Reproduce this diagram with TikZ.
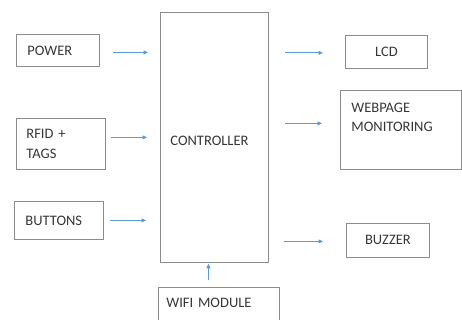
\documentclass[tikz,border=0pt]{standalone}
\usepackage{fontspec}
\setmainfont{Carlito}
\usetikzlibrary{arrows.meta}
\definecolor{boxgray}{HTML}{8C8C8C}
\definecolor{txtgray}{HTML}{363636}
\definecolor{arrblue}{HTML}{5B9BD5}
\tikzset{
  block/.style={draw=boxgray, line width=0.8pt, anchor=north west, align=left,
    inner ysep=0pt, text=txtgray, font=\fontsize{14.5}{19.5}\selectfont},
  flow/.style={draw=arrblue, line width=0.8pt, -{Triangle[length=4.5pt,width=4pt]}},
}
\begin{document}
\begin{tikzpicture}[x=1pt,y=-1pt]
\useasboundingbox (0,0) rectangle (462,320);
% inputs
\node[block, inner xsep=11pt, text width=61pt, minimum height=32pt] (power) at (16,34) {POWER};
\node[block, inner xsep=10pt, text width=69pt, minimum height=51pt] (rfid) at (16,118) {RFID +\\TAGS};
\node[block, inner xsep=11pt, text width=67pt, minimum height=38pt] (buttons) at (14,201) {BUTTONS};
% controller and wifi
\node[block, inner xsep=10pt, text width=88pt, text height=133.6pt, text depth=116.4pt] (ctrl) at (160,12) {CONTROLLER};
\node[block, inner xsep=8pt, text width=105pt, text height=19.6pt, text depth=20pt] (wifi) at (158,287) {WIFI MODULE};
% outputs
\node[block, align=center, inner xsep=5pt, text width=72pt, minimum height=33pt] (lcd) at (345,35) {LCD};
\node[block, inner xsep=11pt, text width=99pt, text height=21.7pt, text depth=57.3pt] (web) at (340,90) {WEBPAGE\\MONITORING};
\node[block, align=center, inner xsep=5pt, text width=73pt, minimum height=34pt] (buzzer) at (346,223) {BUZZER};
% arrows in
\draw[flow, shorten <=13pt, shorten >=12pt] ([yshift=-2pt]power.east) -- ([yshift=-2pt]power.east -| ctrl.west);
\draw[flow, shorten <=5pt, shorten >=13pt] ([yshift=6.5pt]rfid.east) -- ([yshift=6.5pt]rfid.east -| ctrl.west);
\draw[flow, shorten <=6pt, shorten >=14pt] (buttons.east) -- (buttons.east -| ctrl.west);
\draw[flow, shorten <=7pt, shorten >=1pt] ([xshift=-10.5pt]wifi.north) -- ([xshift=-10.5pt]wifi.north |- ctrl.south);
% arrows out
\draw[flow, shorten <=16pt, shorten >=22pt] ([yshift=-1pt]ctrl.east |- lcd.west) -- ([yshift=-1pt]lcd.west);
\draw[flow, shorten <=16pt, shorten >=18pt] ([yshift=6.5pt]ctrl.east |- web.west) -- ([yshift=6.5pt]web.west);
\draw[flow, shorten <=15pt, shorten >=23pt] ([yshift=-1pt]ctrl.east |- buzzer.west) -- ([yshift=-1pt]buzzer.west);
\end{tikzpicture}
\end{document}
